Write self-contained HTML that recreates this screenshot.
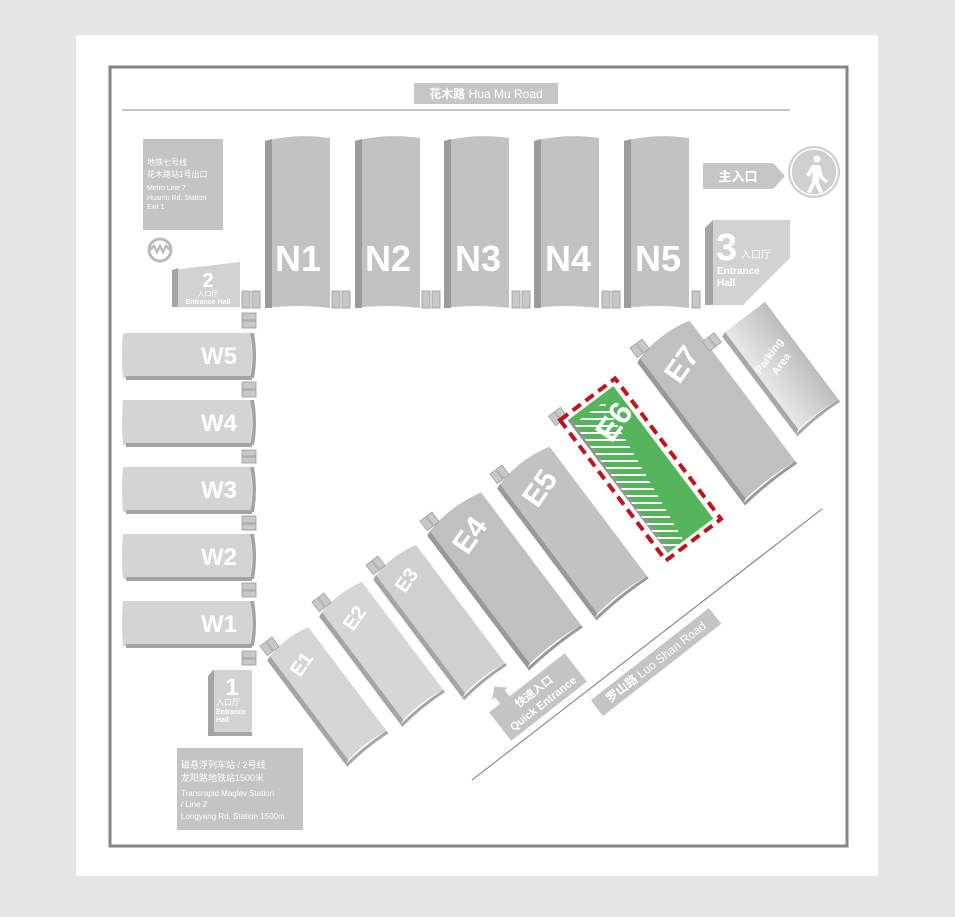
<!DOCTYPE html>
<html><head><meta charset="utf-8"><style>
html,body{margin:0;padding:0;background:#e6e6e6;}
svg{display:block;}
text{font-family:"Liberation Sans","Noto Sans CJK SC",sans-serif;}
</style></head><body>
<svg width="955" height="917" viewBox="0 0 955 917" xmlns="http://www.w3.org/2000/svg">
<defs>
<linearGradient id="pk" x1="0" y1="0" x2="1" y2="0"><stop offset="0" stop-color="#e8e8e8"/><stop offset="1" stop-color="#bdbdbd"/></linearGradient>
<clipPath id="hatch"><polygon points="574,424 604,402 686,545 668,553"/></clipPath>
</defs>
<rect x="0" y="0" width="955" height="917" fill="#e6e6e6"/>
<rect x="76" y="35" width="802" height="841" fill="#fff"/>
<rect x="110" y="67" width="737" height="779" fill="none" stroke="#858585" stroke-width="3"/>
<line x1="122" y1="110" x2="790" y2="110" stroke="#888" stroke-width="1"/>
<rect x="414" y="83" width="144" height="21" fill="#c6c6c6"/>
<text x="486" y="98" font-size="12" fill="#fff" text-anchor="middle" font-weight="bold">花木路 <tspan font-weight="normal">Hua Mu Road</tspan></text>
<rect x="143" y="139" width="80" height="91" fill="#c4c4c4"/>
<g fill="#fff" font-size="8"><text x="147" y="165">地铁七号线</text><text x="147" y="177">花木路站1号出口</text>
<text x="147" y="190" font-size="7">Metro Line 7</text><text x="147" y="200" font-size="7">Huamu Rd. Station</text><text x="147" y="209" font-size="7">Exit 1</text></g>
<circle cx="160" cy="250" r="11" fill="none" stroke="#bbb" stroke-width="3"/>
<path d="M150 250 l4 -4 l3 6 l3 -6 l3 6 l3 -6 l4 4" fill="none" stroke="#bbb" stroke-width="2.5"/>
<polygon points="172,270 240,262 240,307 172,307" fill="#d2d2d2"/>
<polygon points="172,270 178,268 178,307 172,307" fill="#a5a5a5"/>
<text x="208" y="287" font-size="20" font-weight="bold" fill="#fff" text-anchor="middle">2</text>
<text x="208" y="296" font-size="7" fill="#fff" text-anchor="middle">入口厅</text>
<text x="208" y="304" font-size="7" font-weight="bold" fill="#fff" text-anchor="middle">Entrance Hall</text>
<g id="nh">
<path d="M265 141 Q297 133 330 138 L330 308 Q297 304 265 308 Z" fill="#c2c2c2"/>
<path d="M265 141 L272 139 L272 308 L265 308 Z" fill="#9c9c9c"/>
</g>
<use href="#nh" x="90"/><use href="#nh" x="179"/><use href="#nh" x="269"/><use href="#nh" x="359"/>
<g font-size="36" font-weight="bold" fill="#fff" text-anchor="middle">
<text x="298" y="271">N1</text><text x="388" y="271">N2</text><text x="478" y="271">N3</text><text x="568" y="271">N4</text><text x="658" y="271">N5</text></g>
<g fill="#c8c8c8" stroke="#999" stroke-width="0.8">
<rect x="242" y="291" width="8" height="17"/><rect x="252" y="291" width="8" height="17"/>
<rect x="332" y="291" width="8" height="17"/><rect x="342" y="291" width="8" height="17"/>
<rect x="422" y="291" width="8" height="17"/><rect x="432" y="291" width="8" height="17"/>
<rect x="512" y="291" width="8" height="17"/><rect x="522" y="291" width="8" height="17"/>
<rect x="602" y="291" width="8" height="17"/><rect x="612" y="291" width="8" height="17"/>
<rect x="692" y="291" width="8" height="17"/>
<rect x="242" y="313" width="14" height="7"/><rect x="242" y="321" width="14" height="7"/>
<rect x="242" y="382" width="14" height="7"/><rect x="242" y="390" width="14" height="7"/>
<rect x="242" y="450" width="14" height="6"/><rect x="242" y="457" width="14" height="6"/>
<rect x="242" y="516" width="14" height="7"/><rect x="242" y="524" width="14" height="6"/>
<rect x="242" y="583" width="14" height="7"/><rect x="242" y="591" width="14" height="6"/>
<rect x="242" y="651" width="14" height="7"/><rect x="242" y="659" width="14" height="6"/>
</g>
<polygon points="703,163 773,163 785,176 773,189 703,189" fill="#c6c6c6"/>
<text x="738" y="181" font-size="13" font-weight="bold" fill="#fff" text-anchor="middle">主入口</text>
<circle cx="814" cy="172" r="26" fill="#cfcfcf"/>
<circle cx="814" cy="172" r="23" fill="none" stroke="#fff" stroke-width="1.5"/>
<g fill="#fff"><circle cx="817" cy="159" r="3.5"/>
<path d="M812 165 L820 165 L823 176 L828 181 L825 183 L819 177 L819 183 L823 192 L819 193 L815 184 L811 193 L807 192 L812 182 L813 172 L809 177 L806 175 Z"/></g>
<polygon points="705,228 713,220 790,220 790,258 743,305 705,305" fill="#d2d2d2"/>
<polygon points="705,228 713,220 713,305 705,305" fill="#a5a5a5"/>
<text x="716" y="260" font-size="38" font-weight="bold" fill="#fff">3</text>
<text x="741" y="258" font-size="10" fill="#fff">入口厅</text>
<text x="717" y="274" font-size="10" font-weight="bold" fill="#fff">Entrance</text>
<text x="717" y="286" font-size="10" font-weight="bold" fill="#fff">Hall</text>
<g id="wh">
<path d="M123 333 L250 333 Q254 356 250 378 L123 378 Q121 356 123 333 Z" fill="#d4d4d4"/>
<rect x="126" y="376" width="126" height="4" fill="#a3a3a3"/>
<path d="M250 333 Q255 356 250 378 L254 378 Q258 356 254 333 Z" fill="#a3a3a3"/>
</g>
<use href="#wh" y="67"/><use href="#wh" y="134"/><use href="#wh" y="201"/><use href="#wh" y="268"/>
<g font-size="24" font-weight="bold" fill="#fff" text-anchor="end">
<text x="237" y="364">W5</text><text x="237" y="431">W4</text><text x="237" y="498">W3</text><text x="237" y="565">W2</text><text x="237" y="632">W1</text></g>
<polygon points="212,670 252,670 252,730 246,736 208,736 208,676" fill="#d2d2d2"/>
<polygon points="208,676 214,670 214,736 208,736" fill="#a5a5a5"/>
<rect x="208" y="732" width="44" height="4" fill="#a5a5a5"/>
<text x="232" y="695" font-size="24" font-weight="bold" fill="#fff" text-anchor="middle">1</text>
<text x="216" y="705" font-size="8" fill="#fff">入口厅</text>
<text x="216" y="714" font-size="7" font-weight="bold" fill="#fff">Entrance</text>
<text x="216" y="722" font-size="7" font-weight="bold" fill="#fff">Hall</text>
<rect x="177" y="748" width="126" height="82" fill="#c4c4c4"/>
<g fill="#fff" font-size="9"><text x="181" y="768">磁悬浮列车站 / 2号线</text><text x="181" y="781">龙阳路地铁站1500米</text>
<text x="181" y="796" font-size="8">Transrapid Maglev Station</text><text x="181" y="807" font-size="8">/ Line 2</text><text x="181" y="819" font-size="8">Longyang Rd. Station 1500m</text></g>
<line x1="472" y1="780" x2="822" y2="509" stroke="#777" stroke-width="1"/>
<g transform="translate(656,662) rotate(-38)">
<rect x="-75" y="-10" width="150" height="20" fill="#c4c4c4"/>
<text x="0" y="4" font-size="12" fill="#fff" text-anchor="middle" font-weight="bold">罗山路 <tspan font-weight="normal">Luo Shan Road</tspan></text></g>
<g transform="translate(538,697) rotate(-38)">
<rect x="-48" y="-18" width="96" height="36" fill="#c4c4c4"/>
<polygon points="-34,-18 -34,-26 -38,-26 -28,-35 -18,-26 -22,-26 -22,-18" fill="#c4c4c4"/>
<text x="0" y="-3" font-size="11" fill="#fff" text-anchor="middle" font-weight="bold">快速入口</text>
<text x="0" y="12" font-size="11" fill="#fff" text-anchor="middle" font-weight="bold">Quick Entrance</text></g>
<!-- E halls -->
<g transform="translate(270,656) rotate(-37)">
<path d="M0 0 Q24 -6 48 0 L48 130 Q24 126 0 130 Z" fill="#d6d6d6"/><path d="M0 0 L0 130 L-5 132 L-5 2 Z" fill="#a5a5a5"/><path d="M-5 132 Q21 128 48 130 L48 133 Q21 131 -5 135 Z" fill="#a5a5a5"/>
<g fill="#c8c8c8" stroke="#999" stroke-width="0.7"><rect x="-2" y="-14" width="7" height="12"/><rect x="6" y="-14" width="7" height="12"/></g></g>
<g transform="translate(322,612) rotate(-37)">
<path d="M0 0 Q25 -6 50 0 L50 135 Q25 131 0 135 Z" fill="#d6d6d6"/><path d="M0 0 L0 135 L-5 137 L-5 2 Z" fill="#a5a5a5"/><path d="M-5 137 Q22 133 50 135 L50 138 Q22 136 -5 140 Z" fill="#a5a5a5"/>
<g fill="#c8c8c8" stroke="#999" stroke-width="0.7"><rect x="-2" y="-14" width="7" height="12"/><rect x="6" y="-14" width="7" height="12"/></g></g>
<g transform="translate(376,575) rotate(-37)">
<path d="M0 0 Q25 -6 50 0 L50 148 Q25 144 0 148 Z" fill="#d0d0d0"/><path d="M0 0 L0 148 L-5 150 L-5 2 Z" fill="#a5a5a5"/><path d="M-5 150 Q22 146 50 148 L50 151 Q22 149 -5 153 Z" fill="#a5a5a5"/>
<g fill="#c8c8c8" stroke="#999" stroke-width="0.7"><rect x="-2" y="-14" width="7" height="12"/><rect x="6" y="-14" width="7" height="12"/></g></g>
<g transform="translate(430,531) rotate(-37)">
<path d="M0 0 Q32 -8 64 0 L64 166 Q32 162 0 166 Z" fill="#c0c0c0"/><path d="M0 0 L0 166 L-5 168 L-5 2 Z" fill="#999"/><path d="M-5 168 Q29 164 64 166 L64 169 Q29 167 -5 171 Z" fill="#999"/>
<g fill="#c8c8c8" stroke="#999" stroke-width="0.7"><rect x="-2" y="-14" width="7" height="12"/><rect x="6" y="-14" width="7" height="12"/></g></g>
<g transform="translate(500,484) rotate(-37)">
<path d="M0 0 Q31 -8 62 0 L62 162 Q31 158 0 162 Z" fill="#c2c2c2"/><path d="M0 0 L0 162 L-5 164 L-5 2 Z" fill="#999"/><path d="M-5 164 Q28 160 62 162 L62 165 Q28 163 -5 167 Z" fill="#999"/>
<g fill="#c8c8c8" stroke="#999" stroke-width="0.7"><rect x="-2" y="-14" width="7" height="12"/><rect x="6" y="-14" width="7" height="12"/></g></g>
<g transform="translate(640,358) rotate(-37)">
<path d="M0 0 Q31 -8 62 0 L62 176 Q31 172 0 176 Z" fill="#c0c0c0"/><path d="M0 0 L0 176 L-5 178 L-5 2 Z" fill="#999"/><path d="M-5 178 Q28 174 62 176 L62 179 Q28 177 -5 181 Z" fill="#999"/>
<g fill="#c8c8c8" stroke="#999" stroke-width="0.7"><rect x="-2" y="-14" width="7" height="12"/><rect x="6" y="-14" width="7" height="12"/></g></g>
<g transform="translate(725,332) rotate(-37)">
<path d="M0 0 L50 0 L50 122 Q25 119 0 122 Z" fill="url(#pk)"/><path d="M0 0 L0 122 L-5 124 L-5 2 Z" fill="#a8a8a8"/><path d="M-5 124 Q22 120 50 122 L50 125 Q22 123 -5 127 Z" fill="#a8a8a8"/>
<g fill="#c8c8c8" stroke="#999" stroke-width="0.7"><rect x="-24" y="-6" width="7" height="12"/><rect x="-16" y="-6" width="7" height="12"/></g></g>
<g transform="translate(560,420) rotate(-37)">
<rect x="6" y="5" width="57" height="166" fill="#55b55c"/>
<rect x="6" y="5" width="4" height="166" fill="#8a9a8a"/>
<g fill="#c8c8c8" stroke="#999" stroke-width="0.7"><rect x="1" y="-10" width="7" height="12"/><rect x="-7" y="-10" width="7" height="12"/></g>
</g>
<g clip-path="url(#hatch)" stroke="#fff" stroke-width="2">
<line x1="560" y1="405" x2="700" y2="405"/><line x1="560" y1="412" x2="700" y2="412"/><line x1="560" y1="419" x2="700" y2="419"/><line x1="560" y1="426" x2="700" y2="426"/><line x1="560" y1="433" x2="700" y2="433"/><line x1="560" y1="440" x2="700" y2="440"/><line x1="560" y1="447" x2="700" y2="447"/><line x1="560" y1="454" x2="700" y2="454"/><line x1="560" y1="461" x2="700" y2="461"/><line x1="560" y1="468" x2="700" y2="468"/><line x1="560" y1="475" x2="700" y2="475"/><line x1="560" y1="482" x2="700" y2="482"/><line x1="560" y1="489" x2="700" y2="489"/><line x1="560" y1="496" x2="700" y2="496"/><line x1="560" y1="503" x2="700" y2="503"/><line x1="560" y1="510" x2="700" y2="510"/><line x1="560" y1="517" x2="700" y2="517"/><line x1="560" y1="524" x2="700" y2="524"/><line x1="560" y1="531" x2="700" y2="531"/><line x1="560" y1="538" x2="700" y2="538"/><line x1="560" y1="545" x2="700" y2="545"/></g>
<g transform="translate(560,420) rotate(-37)">
<rect x="0" y="0" width="69" height="176" fill="none" stroke="#c0141c" stroke-width="4" stroke-dasharray="10,6"/></g>
<g font-weight="bold" fill="#fff" text-anchor="middle">
<text transform="translate(307,668) rotate(-55)" font-size="20">E1</text>
<text transform="translate(360,622) rotate(-55)" font-size="20">E2</text>
<text transform="translate(412,584) rotate(-55)" font-size="20">E3</text>
<text transform="translate(478,541) rotate(-55)" font-size="30">E4</text>
<text transform="translate(548,494) rotate(-55)" font-size="30">E5</text>
<text transform="translate(623,428) rotate(-55)" font-size="32">E6</text>
<text transform="translate(690,370) rotate(-55)" font-size="30">E7</text>
<text transform="translate(772,358) rotate(-55)" font-size="11">Parking</text>
<text transform="translate(784,366) rotate(-55)" font-size="11">Area</text>
</g>
</svg>
</body></html>
